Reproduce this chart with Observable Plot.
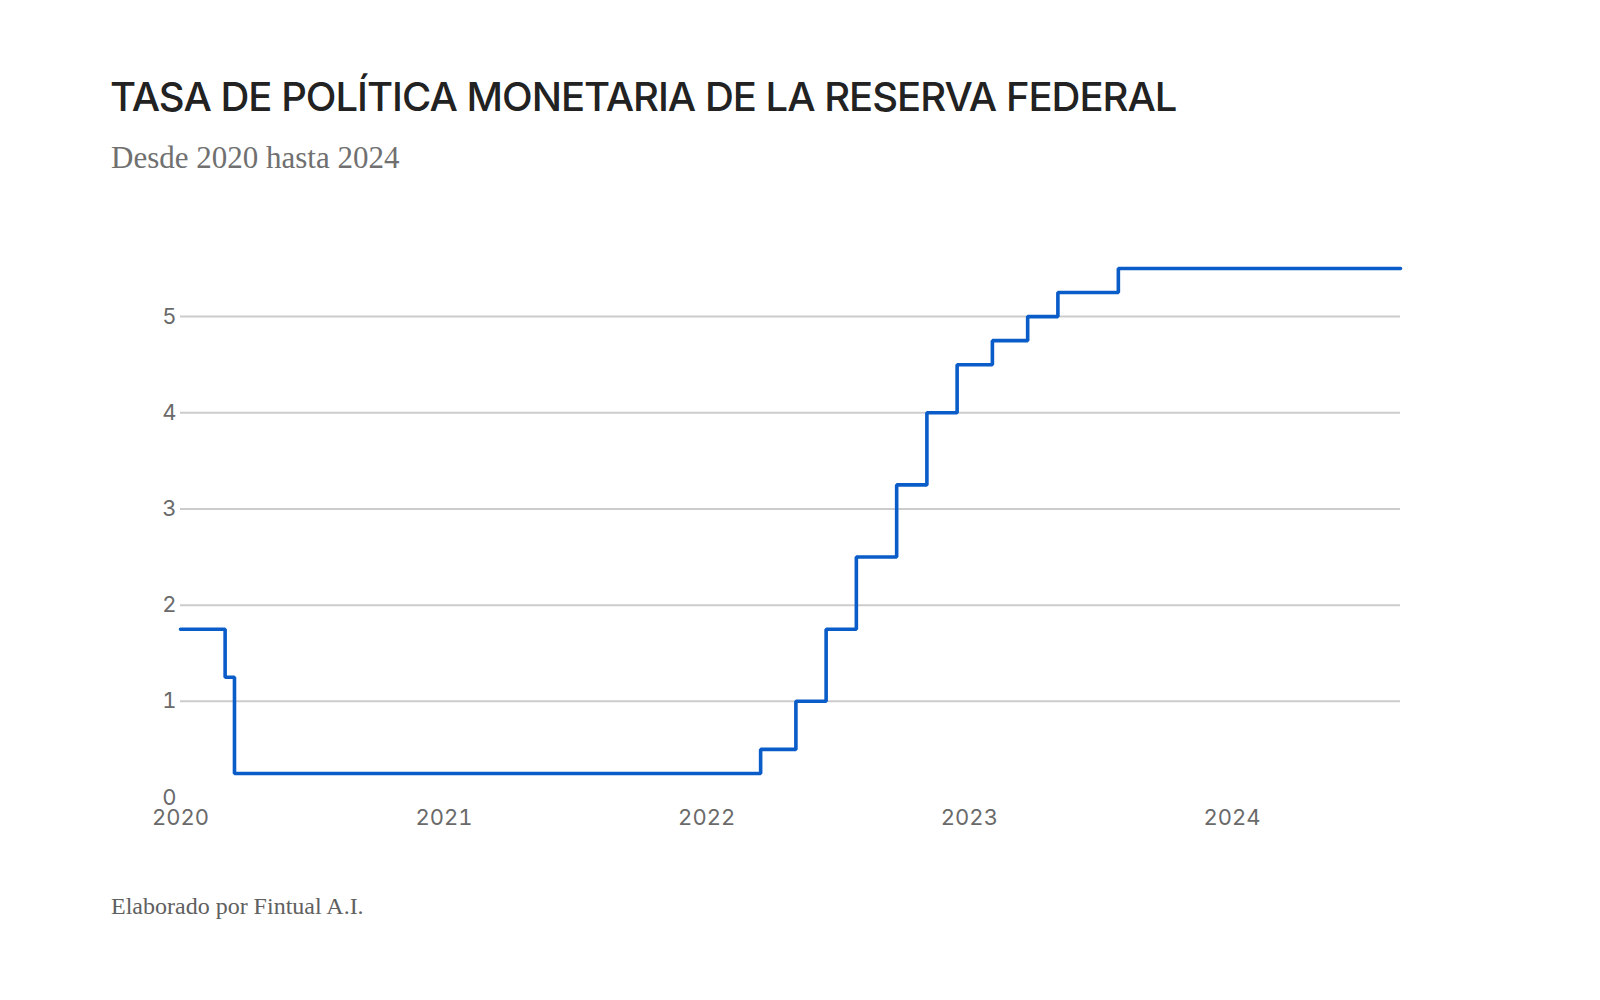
<!DOCTYPE html>
<html>
<head>
<meta charset="utf-8">
<script src="https://cdn.jsdelivr.net/npm/d3@7"></script>
<script src="https://cdn.jsdelivr.net/npm/@observablehq/plot@0.6"></script>
<style>
  html, body { margin: 0; padding: 0; background: #fff; }
  #wrap { position: relative; width: 1600px; height: 1000px; background: #fff; }
  #title { position: absolute; left: 110px; top: 72px; font-family: Inter, "Open Sans", sans-serif; font-size: 40px; font-weight: 500; color: #222; white-space: nowrap; letter-spacing: -1px; }
  #subtitle { position: absolute; left: 111px; top: 140px; font-family: "Liberation Serif", serif; font-size: 31px; color: #707070; white-space: nowrap; }
  #chart { position: absolute; left: 0; top: 220px; }
  #caption { position: absolute; left: 111px; top: 893px; font-family: "Liberation Serif", serif; font-size: 24px; color: #606060; white-space: nowrap; }
</style>
</head>
<body>
<div id="wrap">
  <div id="title">TASA DE POLÍTICA MONETARIA DE LA RESERVA FEDERAL</div>
  <div id="subtitle">Desde 2020 hasta 2024</div>
  <div id="chart"></div>
  <div id="caption">Elaborado por Fintual A.I.</div>
</div>
<script>
// Fed funds target rate (upper bound), change dates
const dates = ["2020-01-01","2020-03-03","2020-03-16","2022-03-17","2022-05-05","2022-06-16","2022-07-28","2022-09-22","2022-11-03","2022-12-15","2023-02-02","2023-03-23","2023-05-04","2023-07-27","2024-08-22"];
const rates = [1.75, 1.25, 0.25, 0.50, 1.00, 1.75, 2.50, 3.25, 4.00, 4.50, 4.75, 5.00, 5.25, 5.50, 5.50];
const yTicks = [0, 1, 2, 3, 4, 5];
const gridValues = [1, 2, 3, 4, 5];
const xTickLabels = ["2020", "2021", "2022", "2023", "2024"];

const data = dates.map((d, i) => ({date: new Date(d + "T00:00:00"), rate: rates[i]}));
const xTicks = xTickLabels.map(y => new Date(y + "-01-01T00:00:00"));

const chart = Plot.plot({
  width: 1600,
  height: 640,
  marginLeft: 180,
  marginRight: 200,
  marginTop: 48,
  marginBottom: 63,
  style: {fontFamily: "Inter, sans-serif", fontSize: "22px", color: "#6a6a6a", background: "#fff"},
  x: {type: "time", domain: [data[0].date, data[data.length - 1].date]},
  y: {domain: [0, 5.5]},
  marks: [
    Plot.ruleY(gridValues, {stroke: "#cccccc", strokeWidth: 2}),
    Plot.axisX({ticks: xTicks, tickFormat: d => String(d.getFullYear()), tickSize: 0, tickPadding: 12, label: null}),
    Plot.axisY({ticks: yTicks, tickFormat: d => String(d), tickSize: 0, tickPadding: 4, label: null}),
    Plot.line(data, {x: "date", y: "rate", curve: "step-after", stroke: "#0a5cc8", strokeWidth: 3.6, strokeLinejoin: "miter"})
  ]
});
document.getElementById("chart").appendChild(chart);
</script>
</body>
</html>
